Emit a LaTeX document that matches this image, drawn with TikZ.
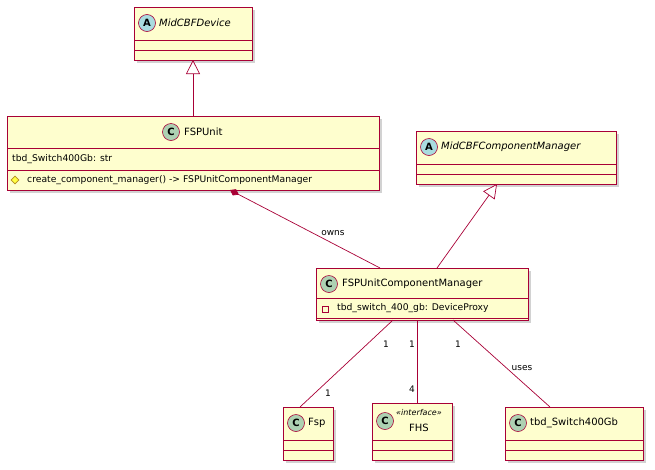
\documentclass[tikz,border=0pt]{standalone}
\usepackage{fontspec}
\setmainfont{DejaVu Sans}
\usetikzlibrary{arrows.meta,shadows,shapes.geometric}
\definecolor{umlfill}{HTML}{FEFECE}
\definecolor{umlline}{HTML}{A80036}
\definecolor{absicon}{HTML}{A9DCDF}
\definecolor{clsicon}{HTML}{ADD1B2}
\definecolor{protline}{HTML}{B38D22}
\definecolor{protfill}{HTML}{FFFF44}

\begin{document}
\begin{tikzpicture}[x=1pt,y=-1pt,
  box/.style={draw=umlline,fill=umlfill,line width=0.8pt,inner sep=0pt,
    drop shadow={shadow xshift=3pt,shadow yshift=-3pt,fill=black!35}},
  sep/.style={draw=umlline,line width=0.8pt},
  link/.style={draw=umlline,line width=0.7pt},
  icon/.style={circle,draw=umlline,line width=0.6pt,minimum size=17pt,inner sep=0pt,font=\fontsize{10}{10}\selectfont\bfseries},
  title/.style={font=\fontsize{10}{12}\selectfont,anchor=west,inner sep=0pt},
  member/.style={font=\fontsize{9.2}{11}\selectfont,anchor=west,inner sep=0pt},
  privicon/.style={draw=umlline,line width=0.6pt,minimum size=6pt,inner sep=0pt},
  proticon/.style={diamond,draw=protline,fill=protfill,line width=0.6pt,minimum size=8pt,inner sep=0pt},
  lbl/.style={font=\fontsize{9}{11}\selectfont,inner sep=1pt}]
\useasboundingbox (0,0) rectangle (655,469);

% MidCBFDevice
\path[box] (134,7) rectangle (252,60);
\coordinate (dev) at (193,60);
\draw[sep] (134,40) -- (252,40); \draw[sep] (134,50) -- (252,50);
\node[icon,fill=absicon] (devicon) at (147,23) {A};
\node[title] (devname) at (159,23) {\itshape MidCBFDevice};

% FSPUnit
\path[box] (7,116) rectangle (379,190);
\coordinate (unittop) at (193,116);
\coordinate (unitbot) at (230,190);
\draw[sep] (7,148) -- (379,148); \draw[sep] (7,170) -- (379,170);
\node[icon,fill=clsicon] (uniticon) at (171,132) {C};
\node[title] (unitname) at (184,132) {FSPUnit};
\node[member] (unitattr) at (12,159) {tbd\_Switch400Gb: str};
\node[proticon] (unitvis) at (15,180) {};
\node[member] (unitop) at (27,180) {create\_component\_manager() -> FSPUnitComponentManager};

% MidCBFComponentManager
\path[box] (416,131) rectangle (616,184);
\coordinate (mgr) at (497,184);
\draw[sep] (416,164) -- (616,164); \draw[sep] (416,174) -- (616,174);
\node[icon,fill=absicon] (mgricon) at (429,147) {A};
\node[title] (mgrname) at (441,147) {\itshape MidCBFComponentManager};

% FSPUnitComponentManager
\path[box] (316,268) rectangle (528,320);
\coordinate (cmtop) at (380,268);
\coordinate (cmsup) at (437,268);
\coordinate (cma) at (393,320);
\coordinate (cmb) at (417,320);
\coordinate (cmc) at (453,320);
\draw[sep] (316,298) -- (528,298); \draw[sep] (316,318) -- (528,318);
\node[icon,fill=clsicon] (cmicon) at (329,284) {C};
\node[title] (cmname) at (342,284) {FSPUnitComponentManager};
\node[privicon] (cmvis) at (325,309) {};
\node[member] (cmattr) at (337,308) {tbd\_switch\_400\_gb: DeviceProxy};

% Fsp
\path[box] (283,407) rectangle (333,460);
\coordinate (fsp) at (300,407);
\draw[sep] (283,440) -- (333,440); \draw[sep] (283,450) -- (333,450);
\node[icon,fill=clsicon] (fspicon) at (296,423) {C};
\node[title] (fspname) at (308,423) {Fsp};

% FHS
\path[box] (372,403) rectangle (452,460);
\coordinate (fhs) at (417,403);
\draw[sep] (372,440) -- (452,440); \draw[sep] (372,450) -- (452,450);
\node[icon,fill=clsicon] (fhsicon) at (385,421) {C};
\node[font=\fontsize{8}{9}\selectfont\itshape,inner sep=0pt] (fhsst) at (419,413) {«interface»};
\node[font=\fontsize{10}{12}\selectfont,inner sep=0pt] (fhsname) at (419,428) {FHS};

% tbd_Switch400Gb
\path[box] (505,407) rectangle (643,460);
\coordinate (sw) at (550,407);
\draw[sep] (505,440) -- (643,440); \draw[sep] (505,450) -- (643,450);
\node[icon,fill=clsicon] (swicon) at (518,423) {C};
\node[title] (swname) at (530,423) {tbd\_Switch400Gb};

% connectors
\draw[link,-{Triangle[open,length=14pt,width=14pt,fill=white]}] (unittop) -- (dev);
\draw[link,-{Triangle[open,length=14pt,width=14pt,fill=white]}] (cmsup) -- (mgr);
\draw[link,{Diamond[length=10pt,width=7pt,fill=umlline]}-] (unitbot) -- (cmtop)
  node[lbl,pos=0.6,above right] {owns};
\draw[link] (cma) -- (fsp);
\draw[link] (cmb) -- (fhs);
\draw[link] (cmc) -- (sw);
\node[lbl] at (386,344) {1};
\node[lbl] at (328,393) {1};
\node[lbl] at (412,344) {1};
\node[lbl] at (412,389) {4};
\node[lbl] at (458,344) {1};
\node[lbl] at (522,368) {uses};
\end{tikzpicture}
\end{document}
